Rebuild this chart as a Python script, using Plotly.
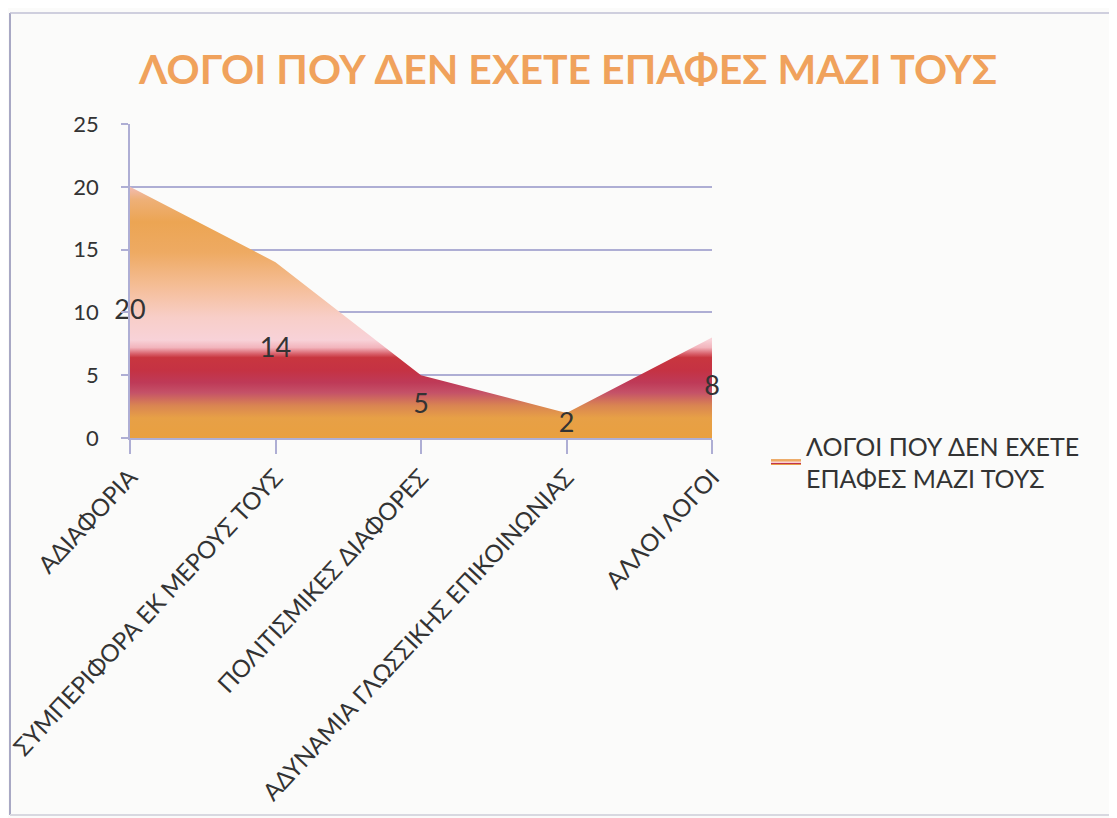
import plotly.graph_objects as go

categories = ["ΑΔΙΑΦΟΡΙΑ", "ΣΥΜΠΕΡΙΦΟΡΑ ΕΚ ΜΕΡΟΥΣ ΤΟΥΣ", "ΠΟΛΙΤΙΣΜΙΚΕΣ ΔΙΑΦΟΡΕΣ",
              "ΑΔΥΝΑΜΙΑ ΓΛΩΣΣΙΚΗΣ ΕΠΙΚΟΙΝΩΝΙΑΣ", "ΑΛΛΟΙ ΛΟΓΟΙ"]
values = [20, 14, 5, 2, 8]
series_name = "ΛΟΓΟΙ ΠΟΥ ΔΕΝ ΕΧΕΤΕ<br>ΕΠΑΦΕΣ ΜΑΖΙ ΤΟΥΣ"
title_text = "ΛΟΓΟΙ ΠΟΥ ΔΕΝ ΕΧΕΤΕ ΕΠΑΦΕΣ ΜΑΖΙ ΤΟΥΣ"
y_ticks = [0, 5, 10, 15, 20, 25]

FONT = "Lato"
GRID = "#AEAED4"
TEXT = "#333333"

OFF = 8  # page body margin
W, H = 1117 - OFF, 818 - OFF
# target-pixel plot box
X0, X1, Y0, Y1 = 130, 712, 124, 438
L, R, T, B = X0 - OFF, W - (X1 - OFF), Y0 - OFF, H - (Y1 - OFF)
pw, ph = X1 - X0, Y1 - Y0


def px(x):
    return (x - X0) / pw


def py(y):
    return (Y1 - y) / ph


gradient = [
    [0.00, "#E9A040"],
    [0.08, "#E7A046"],
    [0.13, "#D98452"],
    [0.18, "#C55268"],
    [0.22, "#BE3A58"],
    [0.27, "#C53243"],
    [0.32, "#C8363F"],
    [0.335, "#D8606A"],
    [0.36, "#F2B4BC"],
    [0.39, "#F8D2D8"],
    [0.48, "#F8CEC8"],
    [0.60, "#F5BE98"],
    [0.74, "#EEAA62"],
    [0.86, "#ECA553"],
    [0.95, "#EEB078"],
    [1.00, "#F2BCB4"],
]

fig = go.Figure()
fig.add_trace(go.Scatter(
    x=categories, y=values, mode="none", fill="tozeroy",
    fillgradient=dict(type="vertical", colorscale=gradient, start=0, stop=max(values)),
    name=series_name, showlegend=True, hoverinfo="skip",
))
fig.add_trace(go.Scatter(
    x=categories, y=[v / 2 for v in values], mode="text",
    text=[str(v) for v in values], textposition="middle center",
    textfont=dict(family=FONT, size=27, color=TEXT), cliponaxis=False,
    showlegend=False, hoverinfo="skip",
))

shapes = [
    dict(type="line", xref="paper", yref="paper", x0=px(10), x1=px(10), y0=py(13), y1=py(815),
         line=dict(color="#A8A8C4", width=2)),
    dict(type="line", xref="paper", yref="paper", x0=px(10), x1=px(1117), y0=py(13), y1=py(13),
         line=dict(color="#C0C0D4", width=1.5)),
    dict(type="line", xref="paper", yref="paper", x0=px(10), x1=px(1117), y0=py(815), y1=py(815),
         line=dict(color="#D8D8E0", width=2)),
]

fig.update_layout(
    width=W, height=H,
    margin=dict(l=L, r=R, t=T, b=B, autoexpand=False),
    paper_bgcolor="#FBFBFA", plot_bgcolor="#FBFBFA",
    font=dict(family=FONT, color=TEXT),
    title=dict(text=title_text, xref="container", x=(568 - OFF) / W, xanchor="center",
               yref="container", y=1 - (70 - OFF) / H, yanchor="middle",
               font=dict(family=FONT, size=41, color="#F0A25C", weight="bold")),
    showlegend=True,
    legend=dict(x=px(766), xanchor="left", y=py(423), yanchor="top",
                font=dict(family=FONT, size=25, color=TEXT), bgcolor="rgba(0,0,0,0)",
                itemwidth=30),
    shapes=shapes,
    xaxis=dict(type="category", range=[0, len(categories) - 1], showgrid=False,
               showline=True, linecolor=GRID, linewidth=1.5,
               ticks="outside", ticklen=14, tickcolor=GRID, tickwidth=1.5,
               tickangle=-47, tickfont=dict(family=FONT, size=24, color=TEXT),
               automargin=False),
    yaxis=dict(range=[0, 25], tickvals=y_ticks, showgrid=True, gridcolor=GRID, gridwidth=1.5,
               showline=True, linecolor=GRID, linewidth=1.5, zeroline=False,
               ticks="outside", ticklen=7, tickcolor=GRID, tickwidth=1.5,
               ticklabelstandoff=18,
               tickfont=dict(family=FONT, size=22, color=TEXT), automargin=False),
)

fig.write_html("out.html")
